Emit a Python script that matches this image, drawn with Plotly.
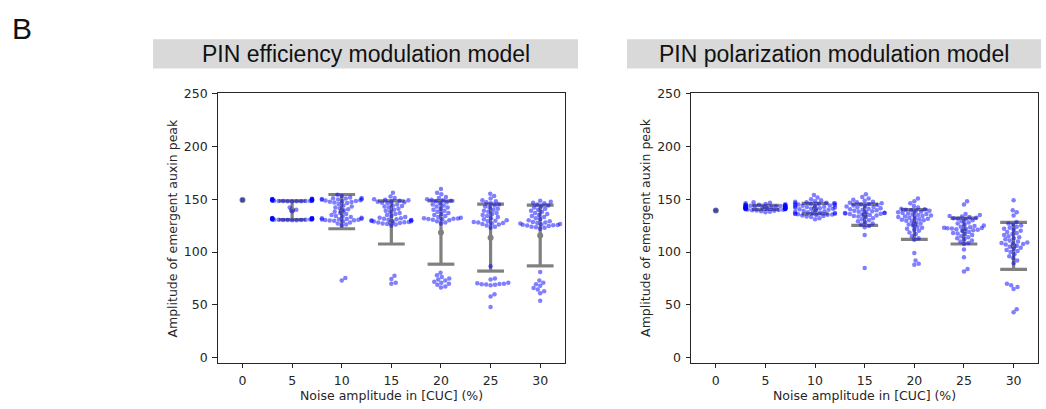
import numpy as np
import plotly.graph_objects as go

W, H = 1046, 409

noise_pos = [0, 1, 2, 3, 4, 5, 6]
noise_labels = ['0', '5', '10', '15', '20', '25', '30']
y_ticks = [0, 50, 100, 150, 200, 250]

panel_titles = ['PIN efficiency modulation model', 'PIN polarization modulation model']
x_title = 'Noise amplitude in [CUC] (%)'
y_title = 'Amplitude of emergent auxin peak'

# ---------------- PIN efficiency modulation model ----------------
eff_0 = [149.2]
eff_5 = [150.3, 150.2, 150.1, 150.0, 149.9, 149.8, 149.6, 149.4, 149.2, 149.0, 148.9, 148.8,
         148.7, 148.6, 148.5, 148.4, 148.3, 148.3, 148.2, 148.2, 148.1, 148.1, 148.0, 148.0,
         142.0, 140.0, 138.5,
         130.0, 130.1, 130.2, 130.2, 130.3, 130.4, 130.5, 130.6, 130.7, 130.8, 130.9, 131.0,
         131.1, 131.2, 131.3, 131.4, 131.5, 131.6, 131.7, 131.8, 131.9, 132.0, 132.1, 132.2]
eff_10 = [154.2, 153.0, 151.5, 151.0, 150.8, 150.5, 150.2, 150.0, 149.7, 149.5,
          149.0, 148.6, 148.3, 148.0, 147.6, 147.2, 146.8, 146.3,
          145.5, 144.0, 143.0, 142.2, 141.5, 140.5, 139.5,
          138.0, 137.0, 136.0, 135.0, 134.0, 133.5, 133.0, 132.5, 132.0, 131.5,
          131.2, 131.0, 130.8, 130.5, 130.3, 130.0, 129.8, 129.5, 129.0,
          128.0, 127.0, 126.0, 125.0, 75.5, 73.0]
eff_15 = [156.0, 152.5, 151.0, 150.0, 149.5, 149.0, 148.5, 148.0, 147.5, 147.0, 146.5, 146.0,
          145.0, 144.0, 143.5, 143.0, 142.0, 141.0, 140.0, 139.0, 138.0, 137.0, 136.0, 135.0,
          134.0, 133.0, 132.5, 132.0, 131.5, 131.0, 130.5, 130.2, 130.0, 129.8, 129.5, 129.2,
          129.0, 128.8, 128.5, 128.2, 128.0, 127.5, 127.0, 126.5, 126.0, 125.0,
          77.5, 74.5, 71.0, 70.0]
eff_20 = [159.5, 156.0, 154.5, 152.0, 151.0, 150.0, 149.5, 149.0, 148.5, 148.0, 147.0, 146.0,
          145.0, 144.0, 143.0, 142.0, 141.0, 140.0, 139.0, 138.0, 137.0, 136.0, 135.0, 134.0,
          133.0, 132.5, 132.0, 131.8, 131.5, 131.2, 131.0, 130.5, 130.0, 129.0, 128.0, 127.0,
          80.5, 78.0, 76.5, 75.0, 74.0, 73.0, 72.0, 71.0, 70.0, 69.0, 67.5, 66.5]
eff_25 = [155.0, 153.0, 150.5, 149.0, 148.0, 147.0, 146.0, 145.0, 144.0, 143.0, 142.0, 141.0,
          140.0, 139.0, 138.0, 137.0, 136.0, 135.0, 134.0, 133.0, 132.0, 131.0, 130.0, 129.5,
          129.0, 128.5, 128.0, 127.5, 127.0, 126.5, 126.0, 125.0, 124.0, 123.0,
          86.5, 75.0, 74.0, 71.0, 70.5, 70.0, 69.8, 69.5, 69.2, 69.0, 68.5,
          60.0, 58.0, 48.0]
eff_30 = [148.5, 147.5, 146.5, 146.0, 145.0, 144.0, 143.0, 142.0, 141.0, 140.0, 139.0, 138.0,
          137.0, 136.0, 135.0, 134.0, 133.0, 132.0, 131.0, 130.0, 129.0, 128.5, 128.0, 127.5,
          127.0, 126.5, 126.0, 125.8, 125.5, 125.2, 125.0, 124.5, 124.0, 123.5, 123.0, 122.0,
          81.0, 73.0, 71.0, 69.5, 68.0, 66.0, 64.5, 63.0, 61.0, 54.0]
eff_mean = [149.2, 139.5, 138.2, 128.0, 118.4, 113.6, 115.6]
eff_sd = [0.0, 8.8, 16.2, 20.4, 29.9, 31.6, 28.7]

# ---------------- PIN polarization modulation model ----------------
pol_0 = [139.2]
pol_5 = [147.0, 146.5, 146.0, 145.5, 145.2, 145.0, 144.8, 144.5, 144.3, 144.0, 143.8, 143.6,
         143.4, 143.2, 143.0, 142.8, 142.6, 142.4, 142.2, 142.0, 141.8, 141.6, 141.4, 141.2,
         141.0, 140.8, 140.6, 140.4, 140.2, 140.0, 139.8, 139.5, 139.2, 139.0, 138.5, 138.0,
         137.5, 143.1, 142.9, 142.5, 142.1, 141.9, 141.5, 141.1, 140.9, 143.7, 144.1, 142.3,
         141.7, 140.7]
pol_10 = [154.0, 151.5, 150.0, 149.0, 148.0, 147.5, 147.0, 146.5, 146.2, 146.0, 145.8, 145.5,
          145.0, 144.5, 144.0, 143.5, 143.0, 142.5, 142.0, 141.5, 141.0, 140.5, 140.0, 139.5,
          139.0, 138.5, 138.0, 137.5, 137.2, 137.0, 136.8, 136.5, 136.2, 136.0, 135.8, 135.5,
          135.2, 135.0, 134.5, 134.0, 133.5, 133.0, 132.0, 131.0, 145.3, 144.8, 143.8, 142.8,
          141.8, 140.8]
pol_15 = [154.5, 152.0, 150.5, 149.5, 148.5, 147.5, 147.0, 146.5, 146.0, 145.5, 145.0, 144.5,
          144.0, 143.5, 143.0, 142.5, 142.0, 141.5, 141.0, 140.5, 140.0, 139.5, 139.0, 138.5,
          138.0, 137.5, 137.2, 137.0, 136.8, 136.5, 136.2, 136.0, 135.5, 135.0, 134.5, 134.0,
          133.5, 133.0, 132.0, 131.0, 130.0, 129.0, 128.0, 127.0, 126.0, 124.5, 123.5,
          116.0, 85.0]
pol_20 = [150.5, 148.0, 146.0, 143.5, 142.0, 141.0, 140.5, 140.0, 139.5, 139.0, 138.5, 138.0,
          137.5, 137.0, 136.5, 136.0, 135.5, 135.0, 134.5, 134.0, 133.5, 133.0, 132.5, 132.0,
          131.5, 131.0, 130.5, 130.0, 129.5, 129.0, 128.0, 127.0, 126.0, 125.0, 124.0, 123.0,
          122.0, 121.0, 120.0, 118.5, 117.0, 115.0, 113.0, 111.5, 99.0, 92.0, 89.0, 88.0]
pol_25 = [148.0, 145.0, 136.0, 135.0, 134.0, 133.5, 133.0, 132.5, 132.0, 131.5, 131.0, 130.0,
          129.0, 128.0, 127.0, 126.0, 125.0, 124.5, 124.0, 123.5, 123.0, 122.8, 122.5, 122.2,
          122.0, 121.5, 121.0, 120.5, 120.0, 119.0, 118.0, 117.5, 117.0, 116.0, 115.0, 114.0,
          113.0, 112.0, 111.0, 110.0, 108.5, 107.5, 102.5, 95.0, 84.0, 81.5]
pol_30 = [149.0, 139.5, 137.5, 134.5, 128.5, 127.0, 126.0, 125.0, 124.0, 123.0, 122.0, 121.0,
          120.0, 119.0, 118.0, 117.0, 116.0, 115.0, 114.0, 113.0, 112.0, 111.0, 110.0, 109.0,
          108.5, 108.0, 107.5, 107.0, 106.0, 105.0, 104.0, 103.0, 102.0, 101.0, 100.0, 98.0,
          96.0, 94.0, 92.0, 89.5, 70.0, 68.5, 67.0, 65.0, 46.0, 43.0]
pol_mean = [139.2, 142.3, 141.0, 135.2, 126.0, 119.8, 105.8]
pol_sd = [0.0, 1.9, 5.0, 10.0, 14.0, 12.2, 22.2]

eff_values = [eff_0, eff_5, eff_10, eff_15, eff_20, eff_25, eff_30]
pol_values = [pol_0, pol_5, pol_10, pol_15, pol_20, pol_25, pol_30]

# ---------------- geometry (pixels) ----------------
Y_TOP, Y_BOT = 87.7, 364.0
X_DOMS = [(217.7, 565.0), (691.0, 1038.4)]
Y_RANGE = [-4.9, 250.55]
X_RANGE = [-0.5, 6.5]
PX_X = (X_DOMS[0][1] - X_DOMS[0][0]) / (X_RANGE[1] - X_RANGE[0])
PX_Y = (Y_BOT - Y_TOP) / (Y_RANGE[1] - Y_RANGE[0])
DOT = 4.5
HALF_W = 0.4


def swarm_offsets(vals):
    ys = np.asarray(vals, dtype=float) * PX_Y
    order = np.argsort(ys, kind='stable')
    px_l, py_l = [], []
    offs = np.zeros(len(ys))
    for i in order:
        y = ys[i]
        nb = [(px, py) for px, py in zip(px_l, py_l) if abs(py - y) < DOT]
        cands = [0.0]
        for px, py in nb:
            dx = np.sqrt(DOT * DOT - (py - y) ** 2)
            cands += [px + dx, px - dx]
        cands = sorted(cands, key=abs)
        chosen = cands[-1]
        for c in cands:
            if all((c - px) ** 2 + (y - py) ** 2 >= DOT * DOT - 1e-6 for px, py in nb):
                chosen = c
                break
        offs[i] = chosen
        px_l.append(chosen)
        py_l.append(y)
    offs = offs / PX_X
    return np.clip(offs, -HALF_W, HALF_W)


fig = go.Figure()
CAP = 0.27
BAR_COL = 'rgb(128,128,128)'
PT_COL = 'rgba(0,0,255,0.5)'

for k, (values, means, sds) in enumerate([(eff_values, eff_mean, eff_sd),
                                           (pol_values, pol_mean, pol_sd)]):
    xa = 'x' if k == 0 else 'x2'
    ya = 'y' if k == 0 else 'y2'
    bx, by = [], []
    for pos, m, s in zip(noise_pos, means, sds):
        if s > 0:
            lo, hi = m - s, m + s
            bx += [pos, pos, None, pos - CAP, pos + CAP, None, pos - CAP, pos + CAP, None]
            by += [lo, hi, None, lo, lo, None, hi, hi, None]
    fig.add_trace(go.Scatter(x=bx, y=by, mode='lines', xaxis=xa, yaxis=ya,
                             line=dict(color=BAR_COL, width=3.2), hoverinfo='skip',
                             showlegend=False))
    fig.add_trace(go.Scatter(x=noise_pos, y=means, mode='markers', xaxis=xa, yaxis=ya,
                             marker=dict(color=BAR_COL, size=6), showlegend=False))
    sx, sy = [], []
    for pos, vals in zip(noise_pos, values):
        offs = swarm_offsets(vals)
        sx += list(pos + offs)
        sy += list(vals)
    fig.add_trace(go.Scatter(x=sx, y=sy, mode='markers', xaxis=xa, yaxis=ya,
                             marker=dict(color=PT_COL, size=DOT, line=dict(width=0)),
                             showlegend=False))

TICKFONT = dict(family='DejaVu Sans', size=12.5, color='#262626')
axis_common = dict(showline=True, mirror=True, linecolor='#262626', linewidth=1,
                   ticks='outside', ticklen=4.5, tickwidth=1, tickcolor='#262626',
                   showgrid=False, zeroline=False, tickfont=TICKFONT,
                   ticklabelstandoff=2)

layout = dict(width=W, height=H, margin=dict(l=0, r=0, t=0, b=0),
              paper_bgcolor='white', plot_bgcolor='white', showlegend=False)
for k in range(2):
    sfx = '' if k == 0 else '2'
    x0, x1 = X_DOMS[k]
    layout['xaxis' + sfx] = dict(domain=[x0 / W, x1 / W], range=X_RANGE,
                                 tickvals=noise_pos, ticktext=noise_labels,
                                 anchor='y' + sfx, **axis_common)
    layout['yaxis' + sfx] = dict(domain=[1 - Y_BOT / H, 1 - Y_TOP / H], range=Y_RANGE,
                                 tickvals=y_ticks, anchor='x' + sfx, **axis_common)
fig.update_layout(**layout)

shapes, annotations = [], []
title_boxes = [(153, 578), (627, 1041)]
for k in range(2):
    bx0, bx1 = title_boxes[k]
    shapes.append(dict(type='rect', xref='paper', yref='paper', x0=bx0 / W, x1=bx1 / W,
                       y0=1 - 63 / H, y1=1 - 33 / H, fillcolor='#d9d9d9', line=dict(width=0),
                       layer='below'))
    annotations.append(dict(text=panel_titles[k], xref='paper', yref='paper',
                            x=(bx0 + bx1) / 2 / W, y=1 - 48 / H, showarrow=False,
                            xanchor='center', yanchor='middle',
                            font=dict(family='Liberation Sans', size=23, color='#111')))
    x0, x1 = X_DOMS[k]
    annotations.append(dict(text=x_title, xref='paper', yref='paper', x=(x0 + x1) / 2 / W,
                            y=1 - 397 / H, showarrow=False, xanchor='center', yanchor='middle',
                            font=dict(family='DejaVu Sans', size=12.5, color='#262626')))
    annotations.append(dict(text=y_title, xref='paper', yref='paper', x=(x0 - 45) / W,
                            y=1 - (Y_TOP + Y_BOT) / 2 / H, showarrow=False, textangle=-90,
                            xanchor='center', yanchor='middle',
                            font=dict(family='DejaVu Sans', size=12.5, color='#262626')))
annotations.append(dict(text='B', xref='paper', yref='paper', x=10 / W, y=1 - 22 / H,
                        showarrow=False, xanchor='left', yanchor='middle',
                        font=dict(family='Liberation Sans', size=30, color='#111')))
fig.update_layout(shapes=shapes, annotations=annotations)

fig.write_html('out.html')
